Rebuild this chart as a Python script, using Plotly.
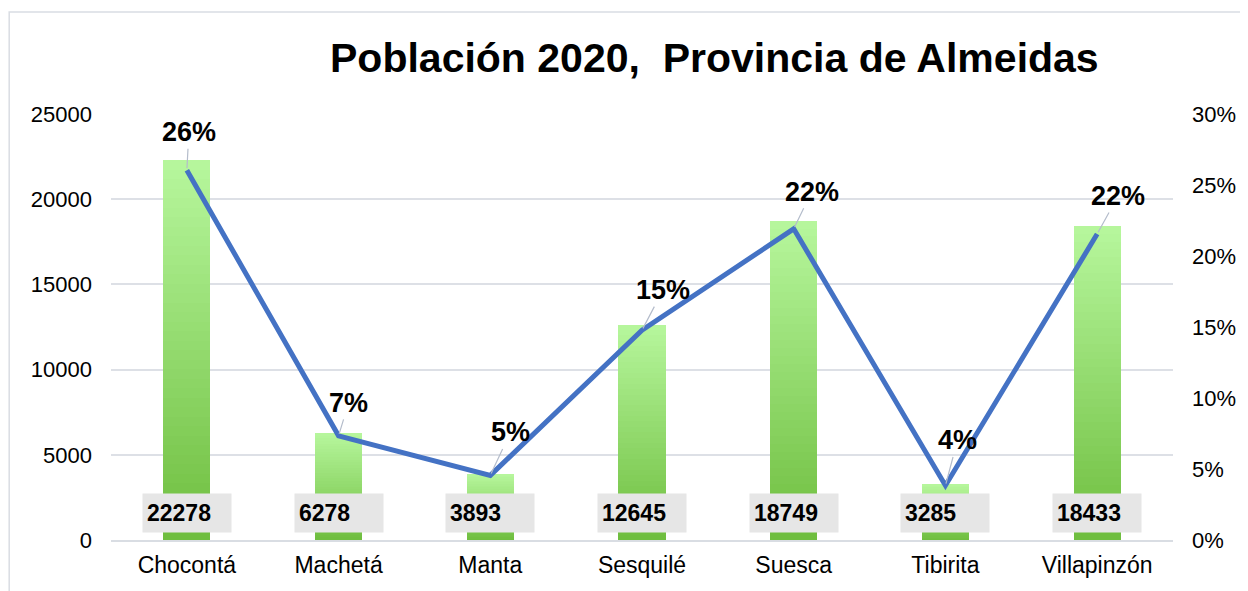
import plotly.graph_objects as go

municipios = ['Chocontá', 'Machetá', 'Manta', 'Sesquilé', 'Suesca', 'Tibirita', 'Villapinzón']
poblacion = [22278, 6278, 3893, 12645, 18749, 3285, 18433]
total = sum(poblacion)
participacion = [p / total for p in poblacion]

# label offsets for the percentage labels (pixels)
pct_offsets = [(2, -38), (10, -33), (20, -43), (21, -40), (18, -37), (12, -45), (21, -38)]

FONT = 'Liberation Sans, Arial, sans-serif'


def mix(c1, c2, t):
    return '#%02x%02x%02x' % tuple(int(round(a + (b - a) * t)) for a, b in zip(c1, c2))


top_col = (0xb6, 0xf6, 0x9c)
bot_col = (0x6f, 0xbe, 0x3f)

fig = go.Figure()

# bars drawn as stacked slices to imitate the vertical gradient fill
n_slices = 40
for i in range(n_slices):
    t = i / (n_slices - 1)
    fig.add_trace(go.Bar(
        x=municipios,
        y=[p / n_slices for p in poblacion],
        marker=dict(color=mix(bot_col, top_col, t), line=dict(width=0)),
        width=0.31,
        showlegend=False,
        hoverinfo='skip',
    ))

fig.add_trace(go.Scatter(
    x=municipios,
    y=participacion,
    yaxis='y2',
    mode='lines',
    line=dict(color='#4472c4', width=5),
    showlegend=False,
    hovertemplate='%{x}: %{y:.0%}<extra></extra>',
))

annotations = []
for m, p, s, (ax, ay) in zip(municipios, poblacion, participacion, pct_offsets):
    annotations.append(dict(
        x=m, y=1600, xref='x', yref='y',
        text='<b>%d</b>' % p, showarrow=False,
        bgcolor='#e6e6e6', width=80, height=30, borderpad=4, align='left',
        font=dict(family=FONT, size=23, color='black'),
    ))
    annotations.append(dict(
        x=m, y=s, xref='x', yref='y2',
        text='<b>%s</b>' % format(s, '.0%'),
        showarrow=True, arrowhead=0, arrowwidth=1.2, arrowcolor='#b4bccb',
        ax=ax, ay=ay, standoff=2,
        font=dict(family=FONT, size=27, color='black'),
    ))

annotations.append(dict(
    x=(716 - 111) / 1064, y=(540 - 58) / 426, xref='paper', yref='paper',
    text='<b>Población 2020,  Provincia de Almeidas</b>', showarrow=False,
    xanchor='center', yanchor='middle',
    font=dict(family=FONT, size=41, color='black'),
))

# page body has an 8px margin, so the figure is shrunk and offset accordingly
fig.update_layout(
    width=1240, height=583,
    margin=dict(l=103, r=73, t=106, b=51),
    barmode='stack',
    plot_bgcolor='white', paper_bgcolor='white',
    font=dict(family=FONT, size=23, color='black'),
    xaxis=dict(
        showgrid=False, showline=True, linecolor='#d9dde3', linewidth=1.5,
        ticks='', tickfont=dict(size=23), ticklabelstandoff=4,
    ),
    yaxis=dict(
        range=[0, 25000], dtick=5000, tickformat='d', showgrid=True,
        gridcolor='#dde0e6', gridwidth=1.5, zeroline=False, ticks='',
        tickfont=dict(size=22), ticklabelstandoff=18,
    ),
    yaxis2=dict(
        range=[0, 0.30], dtick=0.05, tickformat='.0%', overlaying='y',
        side='right', showgrid=False, zeroline=False, tickfont=dict(size=22),
        ticklabelstandoff=18,
    ),
    annotations=annotations,
    shapes=[dict(
        type='rect', xref='paper', yref='paper',
        x0=(1 - 103) / 1064, x1=1.2, y0=-0.3, y1=(540 - 12) / 426,
        line=dict(color='#d9dde3', width=1.5), fillcolor='rgba(0,0,0,0)',
        layer='below',
    )],
)

fig.write_html('out.html')
